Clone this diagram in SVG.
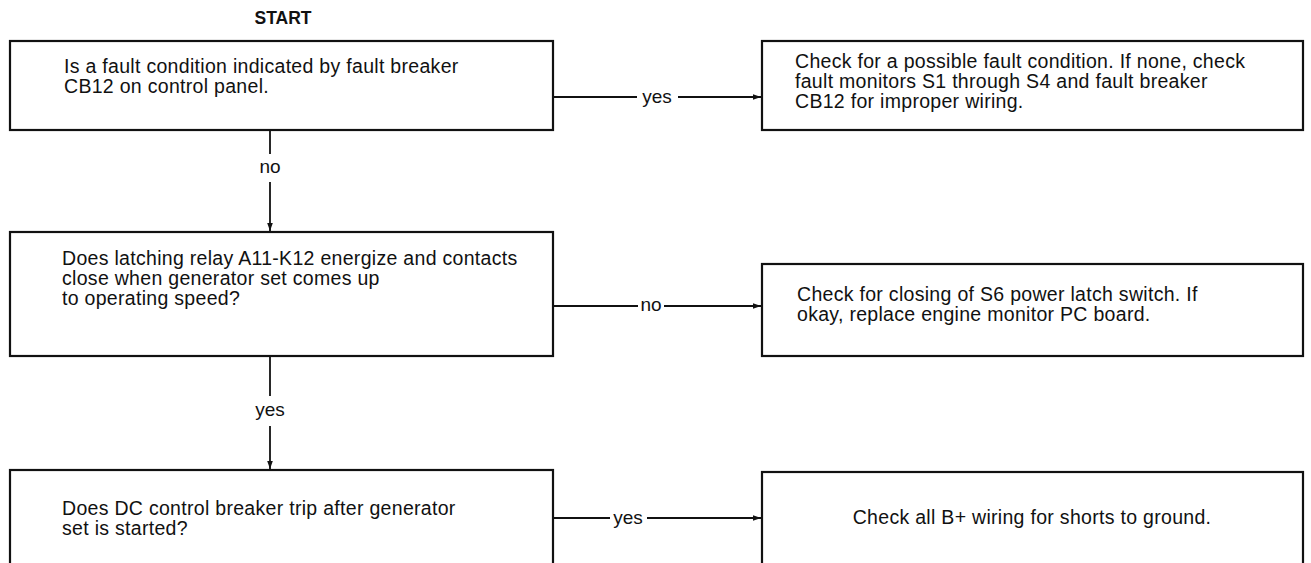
<svg xmlns="http://www.w3.org/2000/svg" width="1311" height="563" viewBox="0 0 1311 563">
<style>
.box{fill:#fff;stroke:#111;stroke-width:2.2}
.t{font-family:"Liberation Sans",Arial,sans-serif;font-size:19.5px;letter-spacing:0.3px;fill:#111}
.lbl{font-family:"Liberation Sans",Arial,sans-serif;font-size:19px;fill:#111;text-anchor:middle}
.c{stroke:#111;stroke-width:1.8;fill:none}
</style>
<defs>
<marker id="ah" viewBox="0 0 10 10" refX="10" refY="5" markerWidth="11" markerHeight="8" markerUnits="userSpaceOnUse" orient="auto">
<path d="M0,1.5 L10,5 L0,8.5 Z" fill="#111"/>
</marker>
</defs>
<rect width="1311" height="563" fill="#fff"/>
<text x="283" y="24" class="lbl" style="font-weight:bold;font-size:17.5px">START</text>
<g id="connectors">
<line class="c" x1="553" y1="97" x2="637" y2="97"/>
<line class="c" x1="678" y1="97" x2="761" y2="97" marker-end="url(#ah)"/>
<text x="657" y="103" class="lbl">yes</text>
<line class="c" x1="270" y1="130" x2="270" y2="154"/>
<line class="c" x1="270" y1="182" x2="270" y2="231" marker-end="url(#ah)"/>
<text x="270" y="173" class="lbl">no</text>
<line class="c" x1="553" y1="306" x2="638" y2="306"/>
<line class="c" x1="664" y1="306" x2="761" y2="306" marker-end="url(#ah)"/>
<text x="651" y="311" class="lbl">no</text>
<line class="c" x1="270" y1="356" x2="270" y2="396"/>
<line class="c" x1="270" y1="426" x2="270" y2="469" marker-end="url(#ah)"/>
<text x="270" y="416" class="lbl">yes</text>
<line class="c" x1="553" y1="518" x2="610" y2="518"/>
<line class="c" x1="647" y1="518" x2="761" y2="518" marker-end="url(#ah)"/>
<text x="628" y="524" class="lbl">yes</text>
</g>
<g id="q1">
<rect class="box" x="10" y="41" width="543" height="89"/>
<text class="t" x="64" y="73">Is a fault condition indicated by fault breaker</text>
<text class="t" x="64" y="93">CB12 on control panel.</text>
</g>
<g id="a1">
<rect class="box" x="762" y="41" width="541" height="89"/>
<text class="t" x="795" y="68">Check for a possible fault condition. If none, check</text>
<text class="t" x="795" y="88">fault monitors S1 through S4 and fault breaker</text>
<text class="t" x="795" y="108">CB12 for improper wiring.</text>
</g>
<g id="q2">
<rect class="box" x="10" y="232" width="543" height="124"/>
<text class="t" x="62" y="265">Does latching relay A11-K12 energize and contacts</text>
<text class="t" x="62" y="285">close when generator set comes up</text>
<text class="t" x="62" y="305">to operating speed?</text>
</g>
<g id="a2">
<rect class="box" x="762" y="264" width="541" height="92"/>
<text class="t" x="797" y="301">Check for closing of S6 power latch switch. If</text>
<text class="t" x="797" y="321">okay, replace engine monitor PC board.</text>
</g>
<g id="q3">
<rect class="box" x="10" y="470" width="543" height="100"/>
<text class="t" x="62" y="515">Does DC control breaker trip after generator</text>
<text class="t" x="62" y="535">set is started?</text>
</g>
<g id="a3">
<rect class="box" x="762" y="472" width="541" height="100"/>
<text class="t" x="1032" y="524" text-anchor="middle">Check all B+ wiring for shorts to ground.</text>
</g>
</svg>
